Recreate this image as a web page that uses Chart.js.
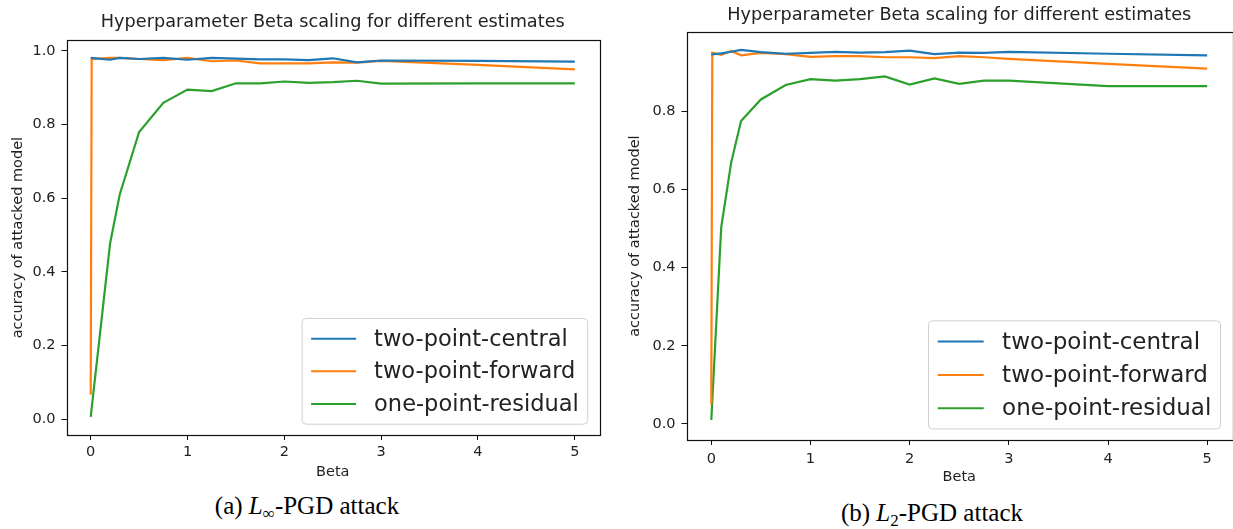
<!DOCTYPE html>
<html>
<head>
<meta charset="utf-8">
<script src="https://cdn.jsdelivr.net/npm/chart.js@4.4.0/dist/chart.umd.min.js"></script>
<style>
  body { margin: 0; background: #fff; }
  #wrap { position: relative; width: 1233px; height: 529px; overflow: hidden; }
  canvas { position: absolute; top: 0; }
  .cap { position: absolute; font-family: "Liberation Serif", "Times New Roman", serif; font-size: 25px; line-height: 28px; color: #000; white-space: nowrap; transform: translateX(-50%); }
  .cap sub { font-size: 17px; vertical-align: -5px; line-height: 0; }
</style>
</head>
<body>
<div id="wrap">
  <canvas id="chartLeft" width="610" height="490" style="left:0px"></canvas>
  <canvas id="chartRight" width="613" height="495" style="left:620px"></canvas>
  <div class="cap" style="left:307px; top:492px">(a) <i>L</i><sub>∞</sub>-PGD attack</div>
  <div class="cap" style="left:932px; top:499px">(b) <i>L</i><sub>2</sub>-PGD attack</div>
</div>
<script>
// series names and colors (matplotlib default cycle)
const seriesNames = ['two-point-central', 'two-point-forward', 'one-point-residual'];
const seriesColors = ['#1f77b4', '#ff7f0e', '#2ca02c'];

const xTicks = [0, 1, 2, 3, 4, 5];
const yTicksLeft = [0.0, 0.2, 0.4, 0.6, 0.8, 1.0];
const yTicksRight = [0.0, 0.2, 0.4, 0.6, 0.8];

// (a) L-inf PGD attack
const betaLeft = [0, 0.01, 0.2, 0.3, 0.5, 0.75, 1, 1.25, 1.5, 1.75, 2, 2.25, 2.5, 2.75, 3, 4, 5];
const centralLeft  = [0.981, null, 0.976, 0.981, 0.978, 0.981, 0.976, 0.981, 0.979, 0.977, 0.977, 0.975, 0.980, 0.969, 0.974, 0.973, 0.971];
const forwardLeft  = [0.066, 0.978, 0.981, 0.981, 0.978, 0.975, 0.981, 0.972, 0.974, 0.966, 0.966, 0.966, 0.969, 0.968, 0.973, 0.962, 0.950];
const residualLeft = [0.006, null, 0.477, 0.610, 0.780, 0.859, 0.895, 0.891, 0.912, 0.912, 0.917, 0.913, 0.915, 0.919, 0.911, 0.912, 0.912];

// (b) L2 PGD attack
const betaRight = [0, 0.01, 0.1, 0.2, 0.3, 0.5, 0.75, 1, 1.25, 1.5, 1.75, 2, 2.25, 2.5, 2.75, 3, 4, 5];
const centralRight  = [0.945, null, 0.948, 0.952, 0.957, 0.951, 0.947, 0.949, 0.952, 0.950, 0.951, 0.955, 0.946, 0.950, 0.949, 0.952, 0.947, 0.943];
const forwardRight  = [0.050, 0.950, 0.944, 0.954, 0.943, 0.949, 0.946, 0.939, 0.941, 0.941, 0.938, 0.938, 0.936, 0.941, 0.938, 0.934, 0.921, 0.909];
const residualRight = [0.010, null, 0.503, 0.668, 0.775, 0.830, 0.867, 0.882, 0.878, 0.882, 0.889, 0.868, 0.884, 0.870, 0.878, 0.878, 0.864, 0.864];

const FONT = '"DejaVu Sans", sans-serif';
const INK = '#222';

// box around the plot like matplotlib spines
const framePlugin = {
    id: 'frame',
    afterDatasetsDraw(chart) {
        const a = chart.chartArea;
        const ctx = chart.ctx;
        ctx.save();
        ctx.strokeStyle = '#111';
        ctx.lineWidth = 1.2;
        ctx.strokeRect(Math.round(a.left) + 0.5, Math.round(a.top) + 0.5,
            Math.round(a.right - a.left), Math.round(a.bottom - a.top));
        ctx.restore();
    }
};

// legend drawn inside the plot, lower right corner
const insideLegend = {
    id: 'insideLegend',
    afterDraw(chart, args, opts) {
        const ctx = chart.ctx;
        const a = chart.chartArea;
        const f = opts.fontSize;
        const sets = chart.data.datasets;
        ctx.save();
        ctx.font = f + 'px ' + FONT;
        let textW = 0;
        sets.forEach(d => { textW = Math.max(textW, ctx.measureText(d.label).width); });
        const pad = 0.4 * f;
        const w = pad * 2 + 2.8 * f + textW;
        const h = pad * 2 + sets.length * f + (sets.length - 1) * 0.45 * f;
        const x = a.right - 0.5 * f - w;
        const y = a.bottom - 0.48 * f - h;

        ctx.beginPath();
        ctx.roundRect(x, y, w, h, 4);
        ctx.fillStyle = 'rgba(255,255,255,0.85)';
        ctx.fill();
        ctx.strokeStyle = '#d0d0d0';
        ctx.lineWidth = 1;
        ctx.stroke();

        sets.forEach((d, i) => {
            const cy = y + pad + f / 2 + i * 1.45 * f;
            ctx.beginPath();
            ctx.moveTo(x + pad, cy);
            ctx.lineTo(x + pad + 2 * f, cy);
            ctx.strokeStyle = d.borderColor;
            ctx.lineWidth = 2;
            ctx.stroke();
            ctx.fillStyle = INK;
            ctx.textBaseline = 'middle';
            ctx.textAlign = 'left';
            ctx.fillText(d.label, x + pad + 2.8 * f, cy + 1);
        });
        ctx.restore();
    }
};

function toPoints(xs, ys) {
    return xs.map((x, i) => ({ x: x, y: ys[i] }));
}

function makeChart(id, betas, series, yTicks, cfg) {
    const ctx = document.getElementById(id).getContext('2d');
    return new Chart(ctx, {
        type: 'line',
        data: {
            datasets: series.map((s, i) => ({
                label: seriesNames[i],
                data: toPoints(betas, s),
                borderColor: seriesColors[i],
                borderWidth: 2.2,
                pointRadius: 0,
                tension: 0,
                spanGaps: true,
                fill: false
            }))
        },
        options: {
            responsive: false,
            animation: false,
            layout: { padding: { left: 0, right: cfg.padRight, top: 0, bottom: 0 } },
            plugins: {
                legend: { display: false },
                tooltip: { enabled: false },
                title: {
                    display: true,
                    fullSize: false,
                    text: 'Hyperparameter Beta scaling for different estimates',
                    color: INK,
                    font: { family: FONT, size: 17.7, weight: 'normal' },
                    padding: cfg.titlePad
                },
                insideLegend: { fontSize: cfg.legendFont }
            },
            scales: {
                x: {
                    type: 'linear',
                    min: -0.25,
                    max: 5.25,
                    afterFit: s => { s.height = cfg.xHeight; },
                    afterBuildTicks: s => { s.ticks = xTicks.map(v => ({ value: v })); },
                    border: { display: false },
                    grid: { display: true, drawOnChartArea: false, drawTicks: true, tickLength: 5, color: '#111' },
                    ticks: { color: INK, font: { family: FONT, size: 14.5 }, padding: cfg.xTickPad, maxRotation: 0,
                        callback: v => String(v) },
                    title: { display: true, text: 'Beta', color: INK, font: { family: FONT, size: 14.5 },
                        padding: { top: 0, bottom: 8.8 } }
                },
                y: {
                    type: 'linear',
                    min: cfg.yMin,
                    max: cfg.yMax,
                    afterFit: s => { s.width = 66.5; },
                    afterBuildTicks: s => { s.ticks = yTicks.map(v => ({ value: v })); },
                    border: { display: false },
                    grid: { display: true, drawOnChartArea: false, drawTicks: true, tickLength: 5, color: '#111' },
                    ticks: { color: INK, font: { family: FONT, size: 14.5 }, padding: 6,
                        callback: v => v.toFixed(1) },
                    title: { display: true, text: 'accuracy of attacked model', color: INK,
                        font: { family: FONT, size: 14.5 }, padding: { top: cfg.yTitlePad, bottom: 0 } }
                }
            }
        },
        plugins: [framePlugin, insideLegend]
    });
}

makeChart('chartLeft', betaLeft, [centralLeft, forwardLeft, residualLeft], yTicksLeft, {
    padRight: 11, xHeight: 55, xTickPad: 4, yMin: -0.043, yMax: 1.029,
    titlePad: { top: 12, bottom: 7 }, yTitlePad: 10, legendFont: 22.5
});

makeChart('chartRight', betaRight, [centralRight, forwardRight, residualRight], yTicksRight, {
    padRight: 1, xHeight: 55, xTickPad: 5.5, yMin: -0.041, yMax: 1.002,
    titlePad: { top: 4.5, bottom: 6.5 }, yTitlePad: 7, legendFont: 23
});
</script>
</body>
</html>
